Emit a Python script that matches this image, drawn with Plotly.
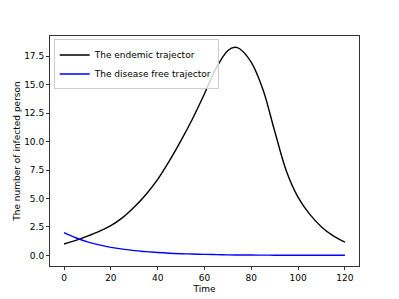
import plotly.graph_objects as go

# Values
t_endemic = [0, 5, 10, 15, 20, 25, 30, 35, 40, 45, 50, 55, 60, 65, 70, 73, 75, 80, 85, 90, 95, 100, 105, 110, 115, 120]
endemic = [1.0, 1.32, 1.7, 2.12, 2.62, 3.32, 4.25, 5.35, 6.67, 8.3, 10.1, 12.05, 14.2, 16.45, 18.0, 18.28, 18.15, 16.95, 14.55, 10.9, 7.4, 5.1, 3.6, 2.5, 1.72, 1.17]

t_free = [0, 5, 10, 15, 20, 25, 30, 35, 40, 45, 50, 55, 60, 65, 70, 75, 80, 85, 90, 95, 100, 105, 110, 115, 120]
disease_free = [2.0, 1.55, 1.19, 0.92, 0.71, 0.55, 0.42, 0.33, 0.25, 0.19, 0.15, 0.12, 0.09, 0.07, 0.05, 0.04, 0.03, 0.025, 0.02, 0.015, 0.012, 0.01, 0.01, 0.01, 0.01]

x_ticks = [0, 20, 40, 60, 80, 100, 120]
y_ticks = [0.0, 2.5, 5.0, 7.5, 10.0, 12.5, 15.0, 17.5]

fig = go.Figure()
fig.add_trace(go.Scatter(x=t_endemic, y=endemic, mode="lines", name="The endemic trajector",
                         line=dict(color="black", width=1.4, shape="spline", smoothing=1.0)))
fig.add_trace(go.Scatter(x=t_free, y=disease_free, mode="lines", name="The disease free trajector",
                         line=dict(color="blue", width=1.4, shape="spline", smoothing=1.0)))

axis_common = dict(showline=True, linecolor="#333", linewidth=1, mirror=True,
                   ticks="outside", ticklen=3, tickwidth=1, tickcolor="#333",
                   showgrid=False, zeroline=False, automargin=False,
                   tickfont=dict(size=9, color="black"))

fig.update_layout(
    width=399, height=299,
    margin=dict(l=50, r=40, t=36, b=33),
    paper_bgcolor="white", plot_bgcolor="white",
    font=dict(family="DejaVu Sans", size=9, color="black"),
    xaxis=dict(range=[-6, 126], tickvals=x_ticks,
               title=dict(text="Time", font=dict(size=9), standoff=3), **axis_common),
    yaxis=dict(range=[-0.93, 19.27], tickvals=y_ticks, tickformat=".1f",
               title=dict(text="The number of infected person", font=dict(size=9), standoff=2), **axis_common),
    legend=dict(x=0.012, y=0.985, xanchor="left", yanchor="top",
                bgcolor="rgba(255,255,255,0.8)", bordercolor="#ccc", borderwidth=1,
                font=dict(size=9), tracegroupgap=0, itemwidth=30),
    showlegend=True,
)

fig.write_html("out.html", config={"displayModeBar": False},
               post_script="document.body.style.margin='0';document.body.style.overflow='hidden';")
